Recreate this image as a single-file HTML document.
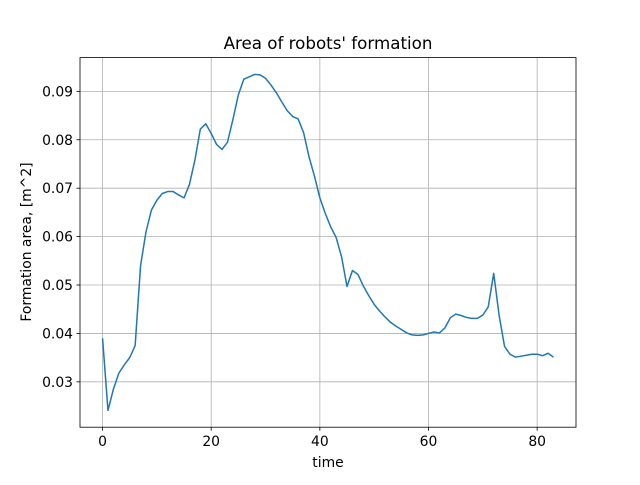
<!DOCTYPE html>
<html><head><meta charset="utf-8"><style>
body{margin:0;background:#fff}
svg text{font-family:"DejaVu Sans","Liberation Sans",sans-serif;fill:#000}
</style></head><body>
<svg id="chart" width="640" height="480">
<rect width="640" height="480" fill="#fff"/>
<g id="grid"></g>
<g id="ticks"></g>
<path id="line" fill="none" stroke="#1f77b4" stroke-width="1.5" stroke-linejoin="round"/>
<rect x="80" y="57.6" width="496" height="369.6" fill="none" stroke="#000" stroke-width="0.8"/>
<text x="328" y="49" font-size="16.7" text-anchor="middle">Area of robots' formation</text>
<text x="328" y="467" font-size="13.9" text-anchor="middle">time</text>
<text transform="translate(31,242) rotate(-90)" font-size="13.9" text-anchor="middle">Formation area, [m^2]</text>
</svg>
<script>
const values=[0.039,0.0241,0.0285,0.0318,0.0335,0.035,0.0375,0.054,0.061,0.0655,0.0675,0.0689,0.0693,0.0693,0.0686,0.068,0.0708,0.0758,0.0822,0.0833,0.0813,0.079,0.078,0.0795,0.0842,0.0893,0.0925,0.093,0.0935,0.0934,0.0927,0.0913,0.0897,0.0878,0.086,0.0848,0.0843,0.0815,0.0765,0.0725,0.068,0.0648,0.062,0.0598,0.0558,0.0497,0.053,0.0522,0.0498,0.0478,0.046,0.0446,0.0434,0.0423,0.0415,0.0408,0.0401,0.0397,0.0396,0.0397,0.04,0.0403,0.0401,0.0411,0.0432,0.044,0.0437,0.0433,0.0431,0.0431,0.0438,0.0455,0.0524,0.0437,0.0373,0.0357,0.0351,0.0353,0.0355,0.0357,0.0357,0.0354,0.0359,0.0351];
const xTicks=[0,20,40,60,80];
const yTicks=[0.03,0.04,0.05,0.06,0.07,0.08,0.09];
const ns="http://www.w3.org/2000/svg";
const L=80,R=576,T=57.6,B=427.2;
const n=values.length-1;
const xmin=-0.05*n,xmax=n*1.05;
const lo=Math.min(...values),hi=Math.max(...values),pad=(hi-lo)*0.05;
const ymin=lo-pad,ymax=hi+pad;
const X=v=>L+(v-xmin)/(xmax-xmin)*(R-L);
const Y=v=>B-(v-ymin)/(ymax-ymin)*(B-T);
const grid=document.getElementById('grid'),ticks=document.getElementById('ticks');
function mk(tag,attrs,parent,txt){const e=document.createElementNS(ns,tag);for(const k in attrs)e.setAttribute(k,attrs[k]);if(txt!==undefined)e.textContent=txt;parent.appendChild(e);return e;}
xTicks.forEach(t=>{const x=X(t);
const g=mk('line',{x1:x,x2:x,y1:T,y2:B,stroke:'#b0b0b0','stroke-width':0.8},grid);


mk('line',{x1:x,x2:x,y1:B,y2:B+3.5,stroke:'#000','stroke-width':0.8},ticks);
const tx=mk('text',{x:x,y:B+19,'font-size':13.9,'text-anchor':'middle'},ticks,String(t));

});
yTicks.forEach(t=>{const y=Y(t);
const g=mk('line',{x1:L,x2:R,y1:y,y2:y,stroke:'#b0b0b0','stroke-width':0.8},grid);


mk('line',{x1:L-3.5,x2:L,y1:y,y2:y,stroke:'#000','stroke-width':0.8},ticks);
const tx=mk('text',{x:L-7,y:y+5,'font-size':13.9,'text-anchor':'end'},ticks,t.toFixed(2));

});
document.getElementById('line').setAttribute('d',values.map((v,i)=>(i?'L':'M')+X(i).toFixed(2)+','+Y(v).toFixed(2)).join(''));
</script>
</body></html>
